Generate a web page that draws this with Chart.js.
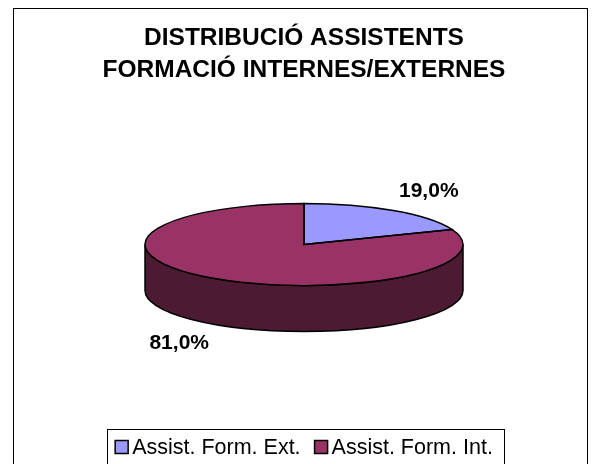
<!DOCTYPE html>
<html>
<head>
<meta charset="utf-8">
<script src="https://cdn.jsdelivr.net/npm/chart.js@4.4.1/dist/chart.umd.min.js"></script>
<style>
  html, body { margin: 0; padding: 0; background: #fff; }
</style>
</head>
<body>
<canvas id="chart" width="592" height="464"></canvas>
<script>
const categories = ['Assist. Form. Ext.', 'Assist. Form. Int.'];
const shares = [19.0, 81.0];
const sliceColors = ['#9999ff', '#993366'];
const sideColors = ['#4d4d80', '#4d1a33'];
const titleLines = ['DISTRIBUCIÓ ASSISTENTS', 'FORMACIÓ INTERNES/EXTERNES'];

const FONT = "'Liberation Sans', Arial, sans-serif";
const TILT = 41 / 159;  // ellipse height / width
const DEPTH = 46;

// parts of an arc that face the viewer (lower half of the ellipse)
function frontRanges( s, e ){
	const out = [];
	for( let k = -1; k <= 1; k++ ){
		const lo = Math.max( s, 2 * Math.PI * k );
		const hi = Math.min( e, 2 * Math.PI * k + Math.PI );
		if( hi > lo ) out.push( [lo, hi] );
	}
	return out;
}

function pctLabel( v, total ){
	return ( v / total * 100 ).toFixed(1).replace( '.', ',' ) + '%';
}

const pie3d = {
	id: 'pie3d',
	beforeDraw( chart ){
		const ctx = chart.ctx;
		ctx.save();
		ctx.fillStyle = '#fff';
		ctx.fillRect( 0, 0, chart.width, chart.height );
		ctx.strokeStyle = '#000';
		ctx.lineWidth = 1;
		ctx.strokeRect( 13.5, 8.5, 574, 480 );
		ctx.restore();
	},
	beforeDatasetsDraw( chart ){
		const ctx = chart.ctx;
		const arcs = chart.getDatasetMeta(0).data;
		ctx.save();
		ctx.strokeStyle = '#000';
		ctx.lineWidth = 1.5;
		arcs.forEach( ( arc, i ) => {
			const { x, y, startAngle, endAngle, outerRadius: r } = arc.getProps( ['x', 'y', 'startAngle', 'endAngle', 'outerRadius'] );
			frontRanges( startAngle, endAngle ).forEach( ( [a, b] ) => {
				ctx.beginPath();
				ctx.ellipse( x, y, r, r * TILT, 0, a, b );
				ctx.lineTo( x + r * Math.cos(b), y + r * TILT * Math.sin(b) + DEPTH );
				ctx.ellipse( x, y + DEPTH, r, r * TILT, 0, b, a, true );
				ctx.closePath();
				ctx.fillStyle = sideColors[i];
				ctx.fill();
				ctx.stroke();
			});
		});
		ctx.restore();
		// squash the library's round pie into an ellipse
		const cy = arcs[0].y;
		ctx.save();
		ctx.translate( 0, cy );
		ctx.scale( 1, TILT );
		ctx.translate( 0, -cy );
	},
	afterDatasetsDraw( chart ){
		const ctx = chart.ctx;
		ctx.restore();
		const arcs = chart.getDatasetMeta(0).data;
		const total = shares.reduce( ( a, b ) => a + b, 0 );
		ctx.save();
		ctx.strokeStyle = '#000';
		ctx.lineWidth = 1.5;
		arcs.forEach( arc => {
			const { x, y, startAngle, endAngle, outerRadius: r } = arc.getProps( ['x', 'y', 'startAngle', 'endAngle', 'outerRadius'] );
			ctx.beginPath();
			ctx.moveTo( x, y );
			ctx.ellipse( x, y, r, r * TILT, 0, startAngle, endAngle );
			ctx.closePath();
			ctx.stroke();
		});
		ctx.fillStyle = '#000';
		ctx.font = 'bold 21px ' + FONT;
		ctx.textAlign = 'center';
		ctx.textBaseline = 'middle';
		arcs.forEach( ( arc, i ) => {
			const { x, y, startAngle, endAngle, outerRadius: r } = arc.getProps( ['x', 'y', 'startAngle', 'endAngle', 'outerRadius'] );
			const mid = ( startAngle + endAngle ) / 2;
			const s = Math.sin( mid );
			const lx = x + ( r + 63 ) * Math.cos( mid );
			const ly = y + ( r * TILT + 23 ) * s + ( s > 0 ? DEPTH : 0 );
			ctx.fillText( pctLabel( shares[i], total ), lx, ly );
		});
		ctx.restore();
	},
	afterDraw( chart ){
		const ctx = chart.ctx;
		ctx.save();
		ctx.font = '21.5px ' + FONT;
		ctx.textBaseline = 'middle';
		const box = 13, gap = 4, itemGap = 14, pad = 8;
		const widths = categories.map( c => ctx.measureText( c ).width );
		const total = widths.reduce( ( a, w ) => a + box + gap + w, 0 ) + itemGap * ( categories.length - 1 );
		const left = 304 - total / 2;
		ctx.strokeStyle = '#000';
		ctx.lineWidth = 1;
		ctx.strokeRect( Math.round( left - pad ) + 0.5, 429.5, Math.round( total + pad * 2 + 3 ), 60 );
		let xPos = left;
		const cy = 447;
		categories.forEach( ( c, i ) => {
			ctx.fillStyle = sliceColors[i];
			ctx.fillRect( xPos, cy - box / 2, box, box );
			ctx.lineWidth = 1.5;
			ctx.strokeRect( xPos, cy - box / 2, box, box );
			ctx.fillStyle = '#000';
			ctx.fillText( c, xPos + box + gap, cy + 1 );
			xPos += box + gap + widths[i] + itemGap;
		});
		ctx.restore();
	}
};

new Chart( document.getElementById( 'chart' ), {
	type: 'pie',
	data: {
		labels: categories,
		datasets: [{
			data: shares,
			backgroundColor: sliceColors,
			borderWidth: 0,
			radius: 159,
			clip: false
		}]
	},
	options: {
		responsive: false,
		animation: false,
		events: [],
		layout: { padding: { left: 16, right: 0, top: 0, bottom: 61 } },
		plugins: {
			legend: { display: false },
			tooltip: { enabled: false },
			title: {
				display: true,
				text: titleLines,
				color: '#000',
				font: { family: FONT, size: 24.5, weight: 'bold', lineHeight: 1.306 },
				padding: { top: 22, bottom: 0 }
			}
		}
	},
	plugins: [pie3d]
});
</script>
</body>
</html>
